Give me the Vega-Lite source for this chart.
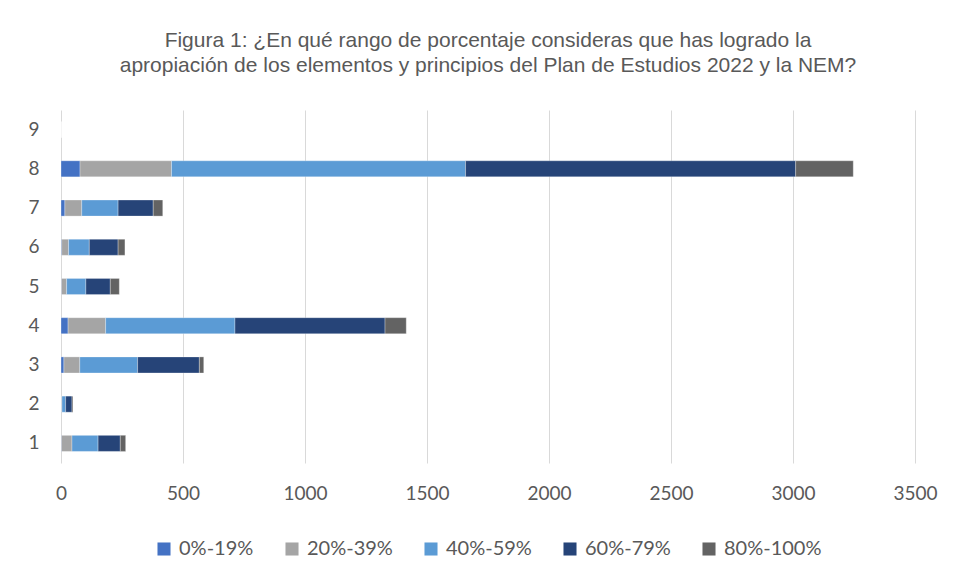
{
  "$schema": "https://vega.github.io/schema/vega-lite/v6.json",
  "width": 854,
  "height": 353,
  "autosize": {"type": "none"},
  "padding": {"left": 61, "top": 110, "right": 41, "bottom": 116},
  "background": "white",
  "title": {
    "text": ["Figura 1: ¿En qué rango de porcentaje consideras que has logrado la", "apropiación de los elementos y principios del Plan de Estudios 2022 y la NEM?"],
    "font": "Liberation Sans",
    "fontSize": 21,
    "fontWeight": "normal",
    "color": "#595959",
    "anchor": "middle",
    "lineHeight": 25,
    "offset": 34
  },
  "data": {
    "values": [
      {"cat": "9", "rango": "0%-19%", "k": 1, "v": 0},
      {"cat": "9", "rango": "20%-39%", "k": 2, "v": 0},
      {"cat": "9", "rango": "40%-59%", "k": 3, "v": 0},
      {"cat": "9", "rango": "60%-79%", "k": 4, "v": 0},
      {"cat": "9", "rango": "80%-100%", "k": 5, "v": 0},
      {"cat": "8", "rango": "0%-19%", "k": 1, "v": 78},
      {"cat": "8", "rango": "20%-39%", "k": 2, "v": 375},
      {"cat": "8", "rango": "40%-59%", "k": 3, "v": 1205},
      {"cat": "8", "rango": "60%-79%", "k": 4, "v": 1353},
      {"cat": "8", "rango": "80%-100%", "k": 5, "v": 236},
      {"cat": "7", "rango": "0%-19%", "k": 1, "v": 16},
      {"cat": "7", "rango": "20%-39%", "k": 2, "v": 69},
      {"cat": "7", "rango": "40%-59%", "k": 3, "v": 149},
      {"cat": "7", "rango": "60%-79%", "k": 4, "v": 144},
      {"cat": "7", "rango": "80%-100%", "k": 5, "v": 39},
      {"cat": "6", "rango": "0%-19%", "k": 1, "v": 3},
      {"cat": "6", "rango": "20%-39%", "k": 2, "v": 28},
      {"cat": "6", "rango": "40%-59%", "k": 3, "v": 85},
      {"cat": "6", "rango": "60%-79%", "k": 4, "v": 118},
      {"cat": "6", "rango": "80%-100%", "k": 5, "v": 28},
      {"cat": "5", "rango": "0%-19%", "k": 1, "v": 2},
      {"cat": "5", "rango": "20%-39%", "k": 2, "v": 21},
      {"cat": "5", "rango": "40%-59%", "k": 3, "v": 79},
      {"cat": "5", "rango": "60%-79%", "k": 4, "v": 100},
      {"cat": "5", "rango": "80%-100%", "k": 5, "v": 37},
      {"cat": "4", "rango": "0%-19%", "k": 1, "v": 29},
      {"cat": "4", "rango": "20%-39%", "k": 2, "v": 154},
      {"cat": "4", "rango": "40%-59%", "k": 3, "v": 530},
      {"cat": "4", "rango": "60%-79%", "k": 4, "v": 615},
      {"cat": "4", "rango": "80%-100%", "k": 5, "v": 87},
      {"cat": "3", "rango": "0%-19%", "k": 1, "v": 12},
      {"cat": "3", "rango": "20%-39%", "k": 2, "v": 65},
      {"cat": "3", "rango": "40%-59%", "k": 3, "v": 237},
      {"cat": "3", "rango": "60%-79%", "k": 4, "v": 253},
      {"cat": "3", "rango": "80%-100%", "k": 5, "v": 18},
      {"cat": "2", "rango": "0%-19%", "k": 1, "v": 2},
      {"cat": "2", "rango": "20%-39%", "k": 2, "v": 2},
      {"cat": "2", "rango": "40%-59%", "k": 3, "v": 15},
      {"cat": "2", "rango": "60%-79%", "k": 4, "v": 26},
      {"cat": "2", "rango": "80%-100%", "k": 5, "v": 4},
      {"cat": "1", "rango": "0%-19%", "k": 1, "v": 2},
      {"cat": "1", "rango": "20%-39%", "k": 2, "v": 43},
      {"cat": "1", "rango": "40%-59%", "k": 3, "v": 107},
      {"cat": "1", "rango": "60%-79%", "k": 4, "v": 91},
      {"cat": "1", "rango": "80%-100%", "k": 5, "v": 22}
    ]
  },
  "mark": {"type": "bar", "stroke": "white", "strokeWidth": 0.5, "strokeOpacity": 0.6},
  "encoding": {
    "y": {
      "field": "cat",
      "type": "nominal",
      "sort": ["9", "8", "7", "6", "5", "4", "3", "2", "1"],
      "scale": {"paddingInner": 0.59, "paddingOuter": 0.295},
      "axis": {
        "title": null,
        "domain": false,
        "ticks": false,
        "grid": false,
        "labelFont": "Lato",
        "labelFontSize": 19,
        "labelColor": "#595959",
        "labelPadding": 22
      }
    },
    "x": {
      "field": "v",
      "type": "quantitative",
      "aggregate": "sum",
      "stack": "zero",
      "scale": {"domain": [0, 3500], "nice": false},
      "axis": {
        "title": null,
        "values": [0, 500, 1000, 1500, 2000, 2500, 3000, 3500],
        "format": "d",
        "domain": false,
        "ticks": false,
        "grid": true,
        "gridColor": "#D9D9D9",
        "gridWidth": 1,
        "labelFont": "Lato",
        "labelFontSize": 19,
        "labelColor": "#595959",
        "labelPadding": 21,
        "labelFlush": false
      }
    },
    "color": {
      "field": "rango",
      "type": "nominal",
      "scale": {
        "domain": ["0%-19%", "20%-39%", "40%-59%", "60%-79%", "80%-100%"],
        "range": ["#4472C4", "#A5A5A5", "#5B9BD5", "#264478", "#636363"]
      },
      "legend": {
        "title": null,
        "orient": "bottom",
        "direction": "horizontal",
        "symbolType": "square",
        "symbolSize": 170,
        "symbolStrokeWidth": 0,
        "labelFont": "Lato",
        "labelFontSize": 20,
        "labelColor": "#595959",
        "columnPadding": 28,
        "labelOffset": 5,
        "offset": 36
      }
    },
    "order": {"field": "k", "type": "quantitative", "aggregate": "min"}
  },
  "config": {
    "view": {"stroke": null},
    "legend": {"layout": {"bottom": {"anchor": "middle"}}}
  }
}
